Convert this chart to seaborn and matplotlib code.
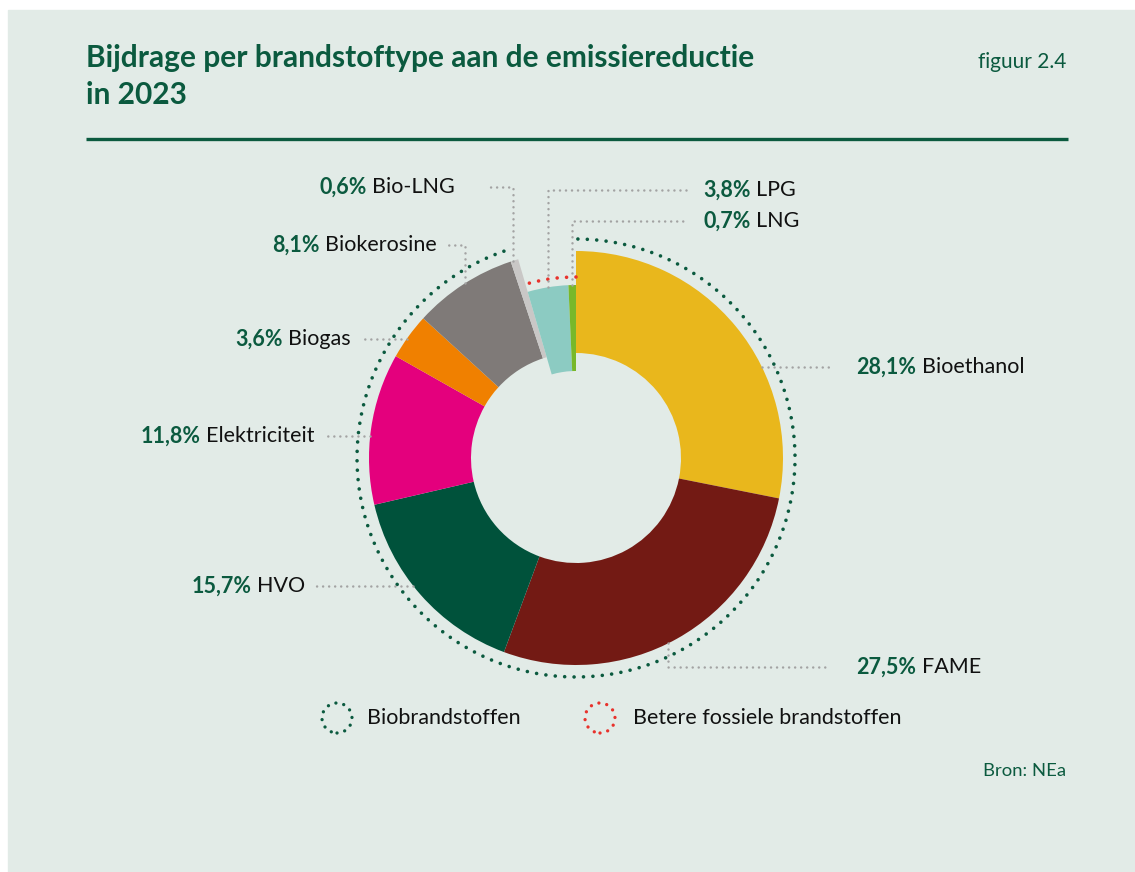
import numpy as np
import matplotlib
matplotlib.use('Agg')
import matplotlib.pyplot as plt
import seaborn as sns
from matplotlib.patches import Arc, Rectangle, Circle

# ---------------- data ----------------
labels = ['Bioethanol', 'FAME', 'HVO', 'Elektriciteit', 'Biogas',
          'Biokerosine', 'Bio-LNG', 'LPG', 'LNG']
shares = [28.1, 27.5, 15.7, 11.8, 3.6, 8.1, 0.6, 3.8, 0.7]
pct_labels = ['28,1%', '27,5%', '15,7%', '11,8%', '3,6%',
              '8,1%', '0,6%', '3,8%', '0,7%']
groups = ['bio'] * 7 + ['fossil'] * 2
group_names = {'bio': 'Biobrandstoffen', 'fossil': 'Betere fossiele brandstoffen'}
title = 'Bijdrage per brandstoftype aan de emissiereductie\nin 2023'
fig_label = 'figuur 2.4'
source = 'Bron: NEa'

# ---------------- style ----------------
W, H = 1135, 872
BG = '#e2ebe7'
GREEN = '#0b5a3f'
RED = '#e8322c'
GREY_LEADER = '#a3a3a3'
palette = sns.color_palette(['#e9b71c', '#731a14', '#00523b', '#e4007d', '#f08000',
                             '#7f7a78', '#c9c7c6', '#8ccbc2', '#78b82a'])

sns.set_style('white')
plt.rcParams['font.family'] = ['Lato', 'DejaVu Sans']

fig = plt.figure(figsize=(W / 100, H / 100), dpi=100)
fig.patch.set_facecolor('white')
ax = fig.add_axes([0, 0, 1, 1])
ax.set_xlim(0, W)
ax.set_ylim(0, H)
ax.set_aspect('equal')
ax.axis('off')


def Y(py):
    return H - py


ax.add_patch(Rectangle((8, 0), W - 8, H - 10, color=BG, zorder=0))

# ---------------- title ----------------
ax.text(86, Y(44), title, fontsize=21.5, fontweight='bold', color=GREEN,
        ha='left', va='top', linespacing=1.4)
ax.text(1066, Y(62), fig_label, fontsize=15, color=GREEN, ha='right', va='center')
ax.plot([86, 1068], [Y(139), Y(139)], color=GREEN, lw=2.4, solid_capstyle='butt')

# ---------------- donut ----------------
cx, cy = 576, Y(458)
R_BIO, W_BIO = 207, 102
R_FOS, W_FOS = 173, 86
ring = {'bio': R_BIO, 'fossil': R_FOS}

for grp, R, wd in [('bio', R_BIO, W_BIO), ('fossil', R_FOS, W_FOS)]:
    wedges, _ = ax.pie(shares, colors=palette, startangle=90, counterclock=False,
                       radius=R, center=(cx, cy), frame=True,
                       wedgeprops=dict(width=wd, linewidth=0))
    for w, g in zip(wedges, groups):
        w.set_visible(g == grp)

ax.set_xlim(0, W)
ax.set_ylim(0, H)
ax.axis('off')

# group arcs
tot = sum(shares)
bio_frac = sum(s for s, g in zip(shares, groups) if g == 'bio') / tot
bio_end = 90 - 360 * bio_frac + 360  # ccw angle where bio ring ends
arc_g = Arc((cx, cy), 2 * 219, 2 * 219, theta1=bio_end + 3, theta2=450,
            color=GREEN, lw=2.6, linestyle=(0, (0.01, 2.6)))
arc_g.set_capstyle('round')
ax.add_patch(arc_g)
arc_r = Arc((cx, cy), 2 * 181, 2 * 181, theta1=90, theta2=bio_end - 1,
            color=RED, lw=2.6, linestyle=(0, (0.01, 2.6)))
arc_r.set_capstyle('round')
ax.add_patch(arc_r)

# ---------------- labels with leader lines ----------------
# (side, label y, mode, vertical leader x, text x, leader end x)
layout = {
    'Bioethanol':    ('right', 367, 'h', None, 856, 830),
    'FAME':          ('right', 667, 'v', 668, 856, 830),
    'HVO':           ('left', 586, 'h', None, 305, 313),
    'Elektriciteit': ('left', 436, 'h', None, 315, 323),
    'Biogas':        ('left', 339, 'h', None, 351, 360),
    'Biokerosine':   ('left', 245, 'v', 465, 437, 447),
    'Bio-LNG':       ('left', 187, 'v', 513, 455, 487),
    'LPG':           ('right', 190, 'v', 548, 703, 688),
    'LNG':           ('right', 221, 'v', 572, 703, 688),
}

lead_kw = dict(color=GREY_LEADER, lw=1.8, linestyle=(0, (0.01, 2.4)),
               dash_capstyle='round', zorder=1)
FS = 15.5

for lab, pct, grp in zip(labels, pct_labels, groups):
    side, ly, mode, vx, tx, lx = layout[lab]
    R = ring[grp]
    yy = Y(ly)
    if mode == 'h':
        dy = yy - cy
        ax_x = cx + np.sqrt(R ** 2 - dy ** 2) * (1 if side == 'right' else -1)
        ax.plot([ax_x, lx], [yy, yy], **lead_kw)
    else:
        dx = vx - cx
        sgn = 1 if yy > cy else -1
        ay = cy + sgn * np.sqrt(R ** 2 - dx ** 2)
        ax.plot([vx, vx, lx], [ay, yy, yy], **lead_kw)
    if side == 'right':
        t1 = ax.text(tx, yy, pct, fontsize=FS, fontweight='bold', color=GREEN,
                     ha='left', va='center')
        ax.annotate(lab, xy=(1, 0.5), xycoords=t1, xytext=(4, 0),
                    textcoords='offset points', fontsize=FS, color='#111111',
                    ha='left', va='center')
    else:
        t1 = ax.text(tx, yy, lab, fontsize=FS, color='#111111',
                     ha='right', va='center')
        ax.annotate(pct, xy=(0, 0.5), xycoords=t1, xytext=(-4, 0),
                    textcoords='offset points', fontsize=FS, fontweight='bold',
                    color=GREEN, ha='right', va='center')

# ---------------- legend ----------------
for (gx, tx), grp, col in [((337, 367), 'bio', GREEN), ((600, 633), 'fossil', RED)]:
    c = Circle((gx, Y(718)), 15, fill=False, edgecolor=col, lw=2.4,
               linestyle=(0, (0.01, 2.4)))
    c.set_capstyle('round')
    ax.add_patch(c)
    ax.text(tx, Y(718), group_names[grp], fontsize=FS, color='#111111',
            ha='left', va='center')

ax.text(1066, Y(771), source, fontsize=13.3, color=GREEN, ha='right', va='center')

fig.savefig('out.png', dpi=100, facecolor=fig.get_facecolor())
